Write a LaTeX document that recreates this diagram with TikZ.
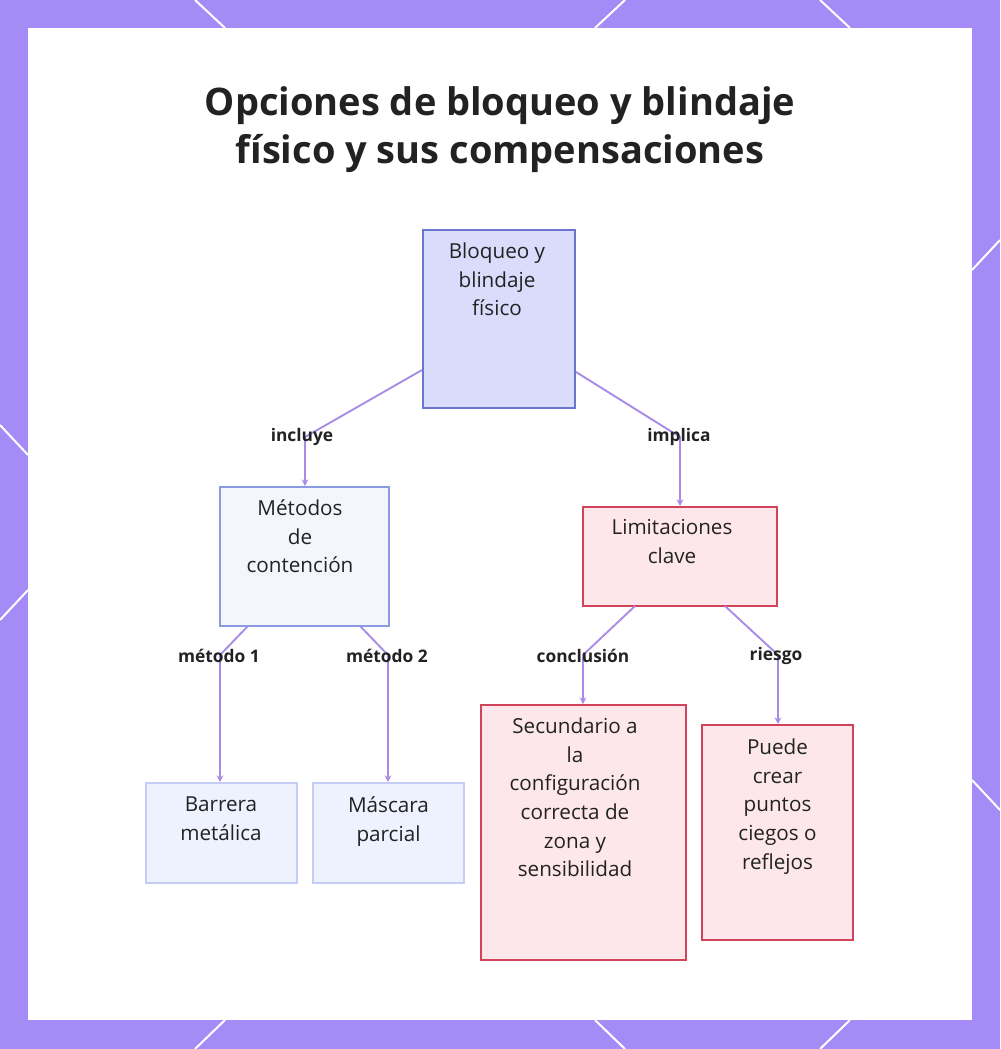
\documentclass[tikz,border=0pt]{standalone}
\usepackage{fontspec}
\setmainfont{Open Sans}
\usetikzlibrary{arrows.meta}
\definecolor{frame}{HTML}{A58BF5}
\definecolor{edge}{HTML}{A88BE6}
\definecolor{bfill}{HTML}{D9DCFB}\definecolor{bdraw}{HTML}{6A75CF}
\definecolor{mfill}{HTML}{F4F6FE}\definecolor{mdraw}{HTML}{8A9BE0}
\definecolor{lfill}{HTML}{EEF1FE}\definecolor{ldraw}{HTML}{C5CCF5}
\definecolor{rfill}{HTML}{FDE7EB}\definecolor{rdraw}{HTML}{D0435A}
\definecolor{txt}{HTML}{222222}
\begin{document}
\begin{tikzpicture}[x=0.75pt,y=-0.75pt,
 box/.style={draw,line width=1.5pt,inner sep=0},
 lab/.style={anchor=north,align=center,font=\fontsize{15.5}{21.5}\selectfont,text=txt},
 elab/.style={font=\bfseries\fontsize{13}{15}\selectfont,text=txt},
 con/.style={draw=edge,line width=1.4pt,-{Stealth[length=5pt,width=5pt]}}]
\useasboundingbox (0,0) rectangle (1000,1049);
\fill[frame] (0,0) rectangle (1000,1049);
\fill[white] (28,28) rectangle (972,1020);
\foreach \a/\b/\c/\d in {195/0/225/28, 595/28/625/0, 820/0/850/28, 0/425/28/455, 0/620/28/590, 972/270/1000/240, 972/780/1000/810, 195/1049/225/1020, 595/1020/625/1049, 820/1049/850/1020}
  \draw[white,line width=1.5pt] (\a,\b)--(\c,\d);
\node[align=center,font=\bfseries\fontsize{28.5}{36}\selectfont,text=txt] (title) at (500,130) {Opciones de bloqueo y blindaje\\físico y sus compensaciones};
% boxes
\node[box,draw=bdraw,fill=bfill,minimum width=114pt,minimum height=133.5pt] (b) at (499,319) {};
\node[lab] (bt) at (497,238) {Bloqueo y\\blindaje\\físico};
\node[box,draw=mdraw,fill=mfill,minimum width=126.75pt,minimum height=104.25pt] (m) at (304.5,556.5) {};
\node[lab] (mt) at (300,495) {Métodos\\de\\contención};
\node[box,draw=rdraw,fill=rfill,minimum width=145.5pt,minimum height=74.25pt] (l) at (680,556.5) {};
\node[lab] (lt) at (672,515) {Limitaciones\\clave};
\node[box,draw=ldraw,fill=lfill,minimum width=113.25pt,minimum height=75pt] (ba) at (221.5,833) {};
\node[lab] (bat) at (221,792) {Barrera\\metálica};
\node[box,draw=ldraw,fill=lfill,minimum width=113.25pt,minimum height=75pt] (ma) at (388.5,833) {};
\node[lab] (mat) at (388.5,792) {Máscara\\parcial};
\node[box,draw=rdraw,fill=rfill,minimum width=153.75pt,minimum height=191.25pt] (s) at (583.5,832.5) {};
\node[lab] (st) at (575,713) {Secundario a\\la\\configuración\\correcta de\\zona y\\sensibilidad};
\node[box,draw=rdraw,fill=rfill,minimum width=113.25pt,minimum height=161.25pt] (p) at (777.5,832.5) {};
\node[lab] (pt) at (777.5,734) {Puede\\crear\\puntos\\ciegos o\\reflejos};
% connectors
\coordinate (c1) at (305,437); \coordinate (c2) at (680,437);
\coordinate (c3) at (220,655); \coordinate (c4) at (388,655);
\coordinate (c5) at (583,655); \coordinate (c6) at (778,655);
\draw[con] (b.west|-0,370) -- (c1) -- (c1|-m.north);
\draw[con] (b.east|-0,372) -- (c2) -- (c2|-l.north);
\draw[con] (248,626) -- (c3) -- (c3|-ba.north);
\draw[con] (360,626) -- (c4) -- (c4|-ma.north);
\draw[con] (635,606) -- (c5) -- (c5|-s.north);
\draw[con] (725,606) -- (c6) -- (c6|-p.north);
\node[elab] at (302,437) {incluye};
\node[elab] at (679,437) {implica};
\node[elab] at (219,656) {método 1};
\node[elab] at (387,656) {método 2};
\node[elab] at (583,656) {conclusión};
\node[elab] at (776,656) {riesgo};
\end{tikzpicture}
\end{document}
